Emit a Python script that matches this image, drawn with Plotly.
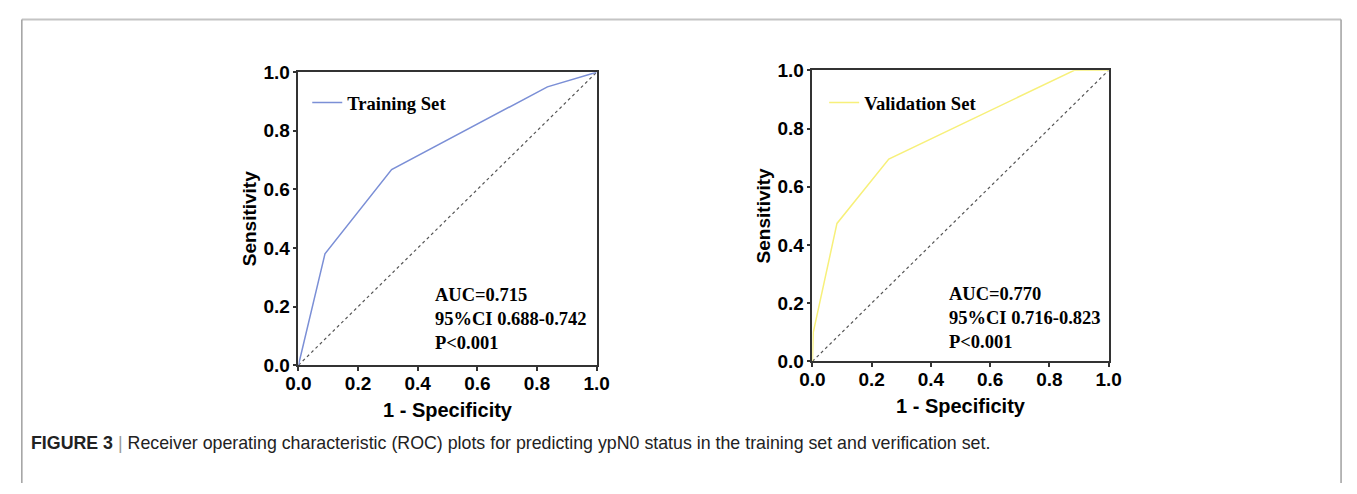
import plotly.graph_objects as go

# Data
train_fpr = [0.0, 0.016, 0.089, 0.3125, 0.835, 1.0]
train_tpr = [0.0, 0.07, 0.38, 0.668, 0.95, 1.0]
valid_fpr = [0.0, 0.003, 0.083, 0.258, 0.884, 1.0]
valid_tpr = [0.0, 0.10, 0.474, 0.695, 1.0, 1.0]
diag = [0.0, 1.0]
tick_vals = [0.0, 0.2, 0.4, 0.6, 0.8, 1.0]
tick_text = ["0.0", "0.2", "0.4", "0.6", "0.8", "1.0"]
train_stats = ["AUC=0.715", "95%CI 0.688-0.742", "P<0.001"]
valid_stats = ["AUC=0.770", "95%CI 0.716-0.823", "P<0.001"]

W, H = 1357, 494
def px(x): return x / W
def py(y): return (H - y) / H

fig = go.Figure()
fig.add_trace(go.Scatter(x=diag, y=diag, mode="lines", xaxis="x", yaxis="y",
                         line=dict(color="#555", width=1.2, dash="dot"), showlegend=False, hoverinfo="skip"))
fig.add_trace(go.Scatter(x=train_fpr, y=train_tpr, mode="lines", xaxis="x", yaxis="y",
                         name="<b>Training Set</b>", line=dict(color="#7b8fd6", width=1.5), legend="legend"))
fig.add_trace(go.Scatter(x=diag, y=diag, mode="lines", xaxis="x2", yaxis="y2",
                         line=dict(color="#555", width=1.2, dash="dot"), showlegend=False, hoverinfo="skip"))
fig.add_trace(go.Scatter(x=valid_fpr, y=valid_tpr, mode="lines", xaxis="x2", yaxis="y2",
                         name="<b>Validation Set</b>", line=dict(color="#f7f07a", width=1.5), legend="legend2"))

tickfont = dict(family="Liberation Sans, Arial", size=19, color="black")
def ax(domain, anchor, title, standoff, tsize, tls):
    return dict(domain=domain, anchor=anchor, range=[0, 1], tickvals=tick_vals,
                ticktext=["<b>" + t + "</b>" for t in tick_text],
                ticks="outside", ticklen=4, tickwidth=1.5, tickcolor="#333",
                ticklabelstandoff=tls,
                showline=True, linecolor="#333", linewidth=1.5, mirror=True,
                showgrid=False, zeroline=False, tickfont=tickfont,
                title=dict(text="<b>" + title + "</b>",
                           font=dict(family="Liberation Sans, Arial", size=tsize, color="black"),
                           standoff=standoff))

xa = ax([px(291), px(595)], "y", "1 - Specificity", 10, 20, -4)
ya = ax([py(371), py(65)], "x", "Sensitivity", 2, 19, -1)
xa2 = ax([px(815), px(1117)], "y2", "1 - Specificity", 10, 20, -4)
ya2 = ax([py(367), py(63)], "x2", "Sensitivity", 2, 19, -1)

legfont = dict(family="Liberation Serif, Times New Roman", size=18.6, color="black")
annfont = dict(family="Liberation Serif, Times New Roman", size=18.5, color="black")

annotations = [
    dict(text="<br>".join("<b>" + s + "</b>" for s in train_stats), x=px(428), y=py(285),
         xref="paper", yref="paper", xanchor="left", yanchor="top", align="left",
         showarrow=False, font=annfont),
    dict(text="<br>".join("<b>" + s + "</b>" for s in valid_stats), x=px(952), y=py(284),
         xref="paper", yref="paper", xanchor="left", yanchor="top", align="left",
         showarrow=False, font=annfont),
    dict(text="<b>FIGURE 3</b> <span style='color:#999'>|</span> Receiver operating characteristic (ROC) plots for predicting ypN0 status in the training set and verification set.",
         x=px(16), y=py(452), xref="paper", yref="paper", xanchor="left", yanchor="middle",
         showarrow=False, font=dict(family="Liberation Sans, Arial", size=17.8, color="#222")),
]

shapes = [
    dict(type="line", xref="paper", yref="paper", x0=px(9), x1=px(1354), y0=py(10), y1=py(10),
         line=dict(color="#c4c4c4", width=2)),
    dict(type="line", xref="paper", yref="paper", x0=px(9), x1=px(9), y0=py(10), y1=0,
         line=dict(color="#a0a0a0", width=1.5)),
    dict(type="line", xref="paper", yref="paper", x0=px(1354), x1=px(1354), y0=py(10), y1=0,
         line=dict(color="#a0a0a0", width=1.5)),
]

fig.update_layout(
    width=W, height=H, margin=dict(l=0, r=0, t=0, b=0),
    paper_bgcolor="white", plot_bgcolor="white",
    xaxis=xa, yaxis=ya, xaxis2=xa2, yaxis2=ya2,
    legend=dict(x=px(300), y=py(97), xanchor="left", yanchor="middle", bgcolor="rgba(0,0,0,0)",
                font=legfont),
    legend2=dict(x=px(827), y=py(97), xanchor="left", yanchor="middle", bgcolor="rgba(0,0,0,0)",
                 font=legfont),
    annotations=annotations, shapes=shapes,
)

fig.write_html("out.html", config={"displayModeBar": False},
               post_script="document.body.style.margin='0';document.body.style.overflow='hidden';")
